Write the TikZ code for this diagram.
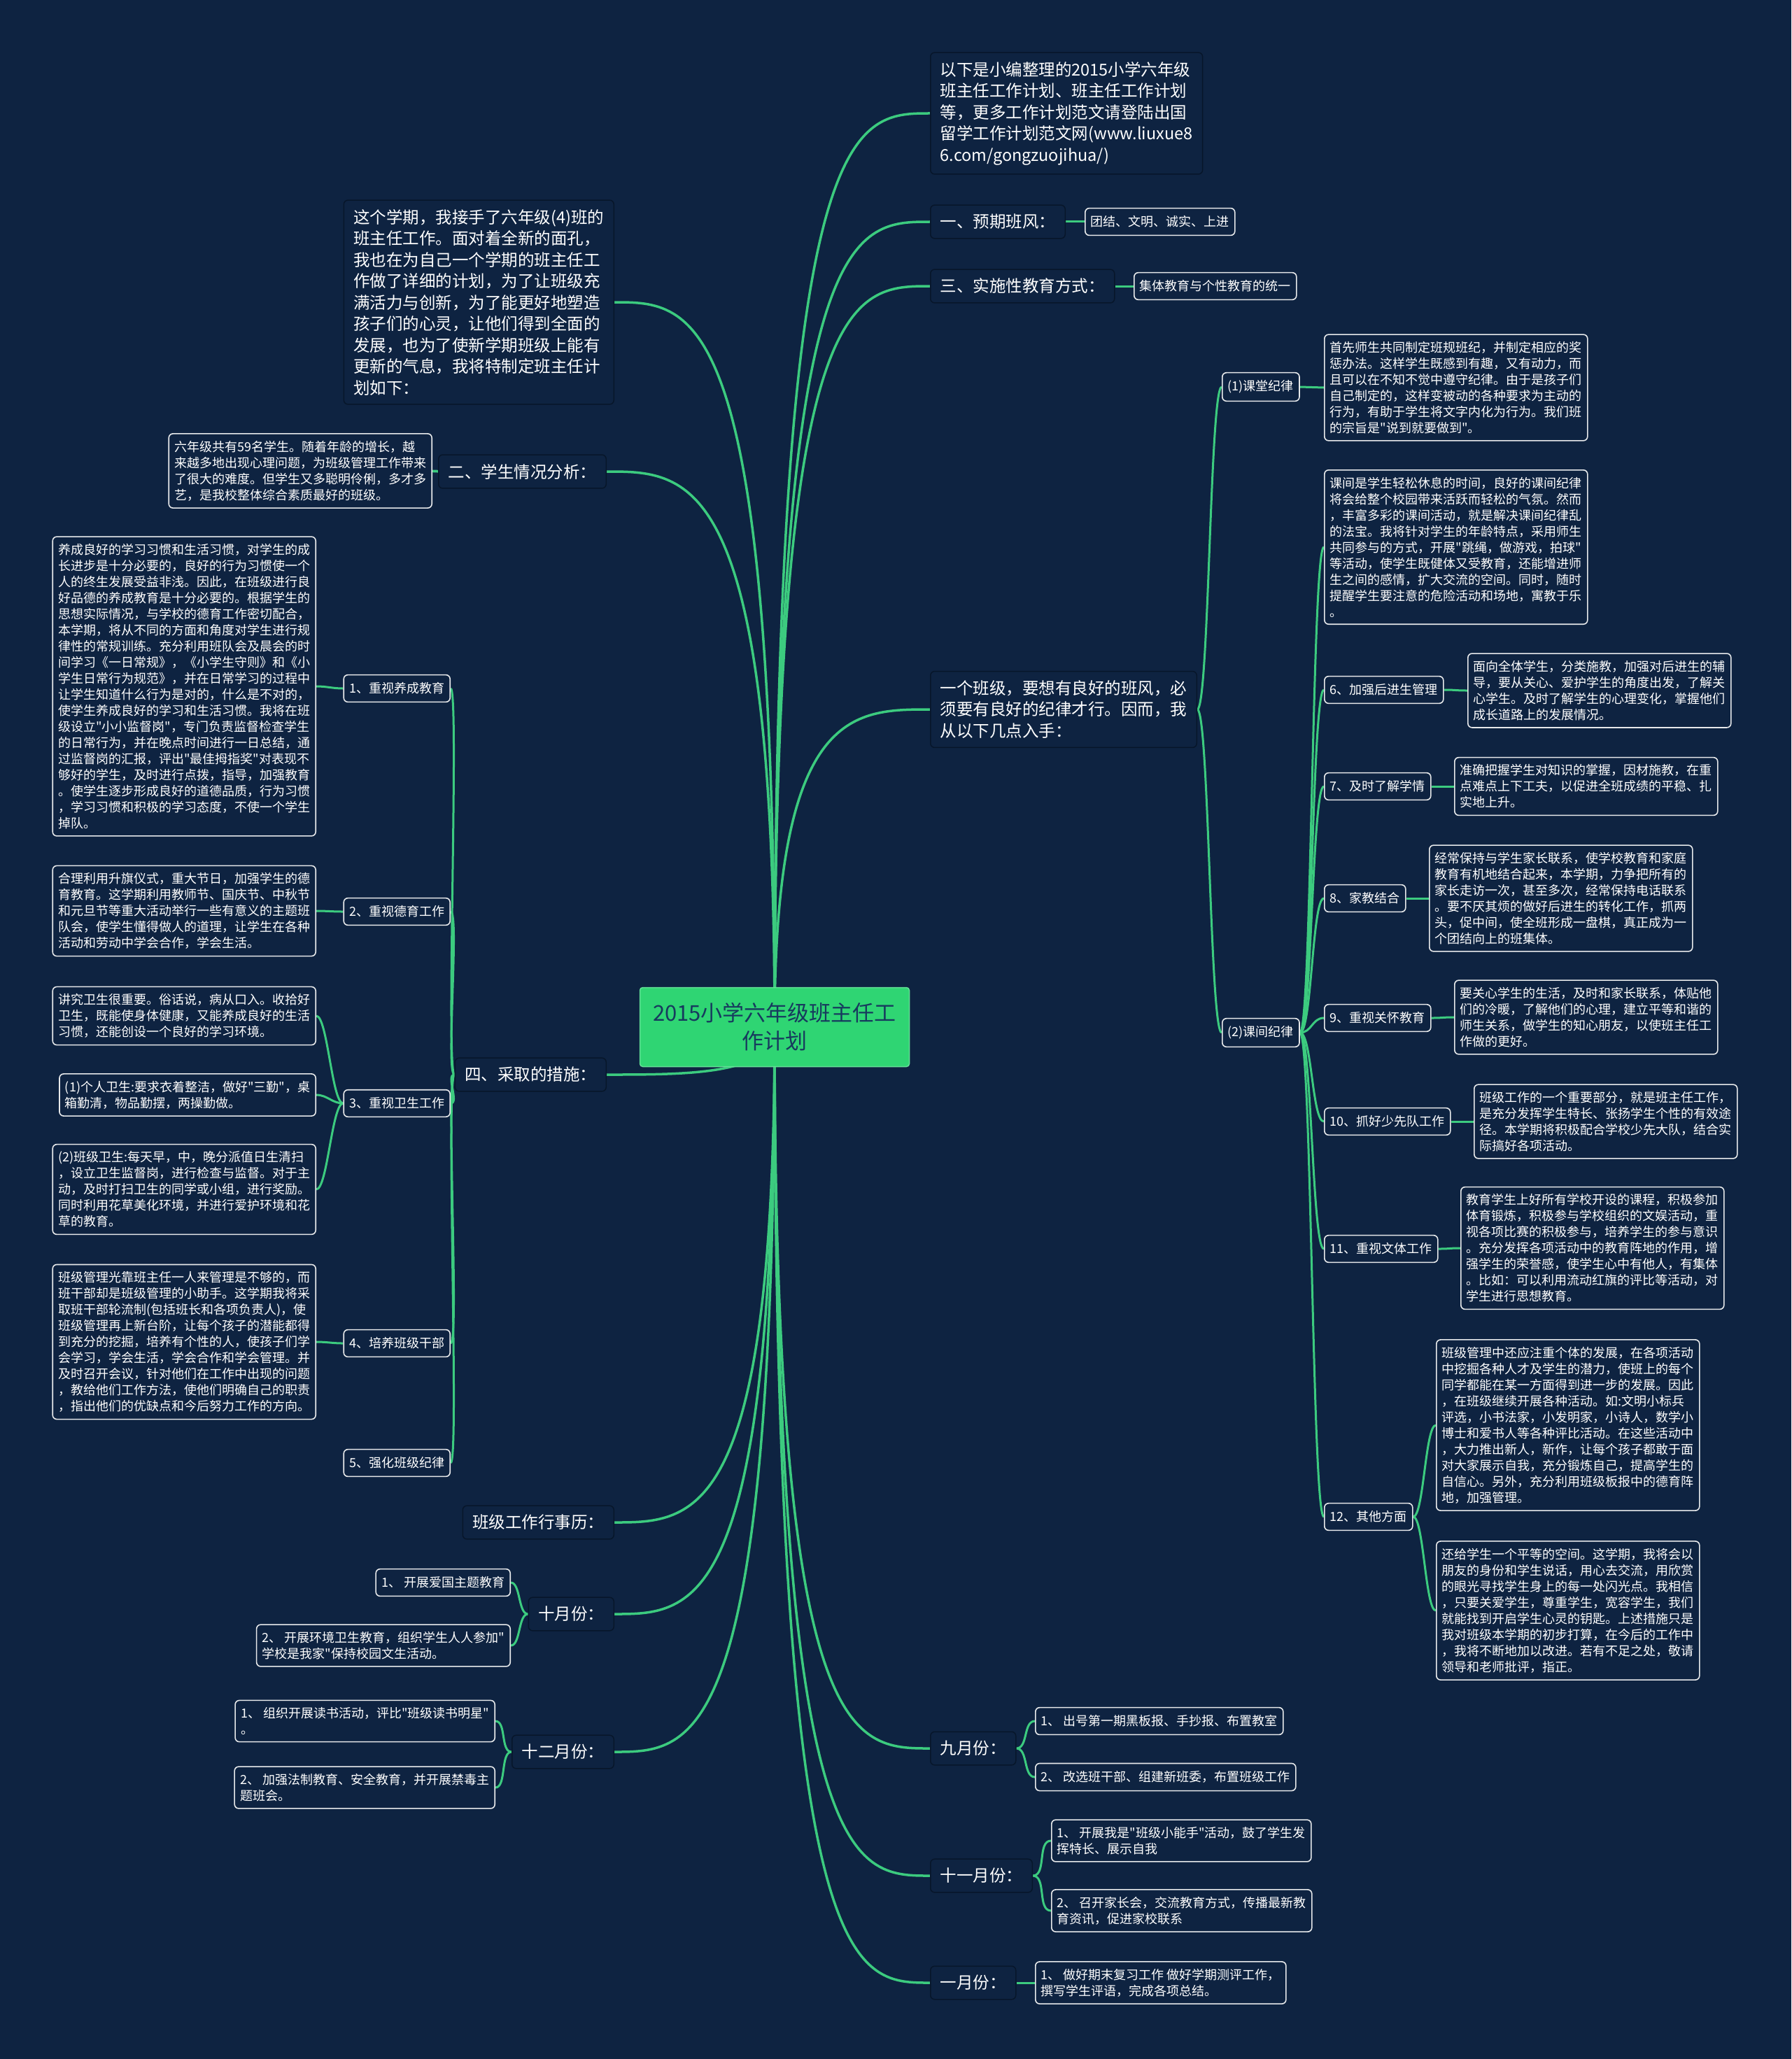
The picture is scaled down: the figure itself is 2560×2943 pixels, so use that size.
\documentclass[tikz,border=0pt]{standalone}
\usepackage{fontspec}
\setmainfont{Noto Sans CJK SC}[Ligatures=TeXOff]
\usetikzlibrary{calc}
\definecolor{bgc}{HTML}{0E2341}
\definecolor{lnc}{HTML}{3CCB7F}
\definecolor{rootc}{HTML}{2FD573}
\definecolor{roottx}{HTML}{173A5E}
\definecolor{mainbd}{HTML}{07162A}
\definecolor{leafbd}{HTML}{E6E8EA}
\pgfdeclarelayer{bglayer}
\pgfdeclarelayer{lines}
\pgfsetlayers{bglayer,lines,main}
\tikzset{
  basebox/.style={text=white, align=left, rounded corners=6pt},
  mainnode/.style={basebox, fill=bgc, draw=mainbd, line width=1.5pt, inner xsep=14pt, inner ysep=13pt, font=\fontsize{23.5}{30.5}\selectfont},
  leaf/.style={basebox, fill=bgc, draw=leafbd, line width=1.6pt, inner xsep=8pt, inner ysep=10pt, font=\fontsize{18}{23}\selectfont},
  tag/.style={leaf, inner ysep=11pt},
  rootnode/.style={fill=rootc, draw=rootc!75!white, line width=1.5pt, text=roottx, align=center, rounded corners=4pt, font=\fontsize{31}{40}\selectfont, minimum width=385pt, minimum height=113pt},
  rootconn/.style={draw=lnc, line width=3.5pt},
  conn/.style={draw=lnc, line width=3pt},
}
\newcommand\myrootlink[1]{\draw[rootconn] let \p1=(root.center), \p2=(#1) in (\p1) .. controls (\x1,\y2) and ({0.5*\x1+0.5*\x2},\y2) .. (\p2);}
\newcommand\mysl[3]{\draw[conn] (#1) .. controls +(#3,0) and +(-#3,0) .. (#2);}
\begin{document}
\begin{tikzpicture}[x=1pt,y=-1pt]
\useasboundingbox (0,0) rectangle (2560,2943);
\begin{pgfonlayer}{bglayer}
\fill[bgc] (0,0) rectangle (2560,2943);
\end{pgfonlayer}

% root
\node[rootnode] (root) at (1107,1468) {2015小学六年级班主任工\\作计划};

% right side
\node[mainnode, anchor=west] (intro) at (1329,162) {以下是小编整理的2015小学六年级\\班主任工作计划、班主任工作计划\\等，更多工作计划范文请登陆出国\\留学工作计划范文网(www.liuxue8\\6.com/gongzuojihua/)};
\node[mainnode, anchor=west] (yq) at (1329,317) {一、预期班风：};
\node[tag, anchor=west] (yqa) at (1550,317) {团结、文明、诚实、上进};
\node[mainnode, anchor=west] (ss) at (1329,409) {三、实施性教育方式：};
\node[tag, anchor=west] (ssa) at (1620,409) {集体教育与个性教育的统一};
\node[mainnode, anchor=west] (bj) at (1329,1014) {一个班级，要想有良好的班风，必\\须要有良好的纪律才行。因而，我\\从以下几点入手：};

\node[tag, anchor=west] (kt) at (1746,553) {(1)课堂纪律};
\node[leaf, anchor=west] (kta) at (1892,554) {首先师生共同制定班规班纪，并制定相应的奖\\惩办法。这样学生既感到有趣，又有动力，而\\且可以在不知不觉中遵守纪律。由于是孩子们\\自己制定的，这样变被动的各种要求为主动的\\行为，有助于学生将文字内化为行为。我们班\\的宗旨是"说到就要做到"。};
\node[tag, anchor=west] (kj) at (1746,1476) {(2)课间纪律};
\node[leaf, anchor=west] (kja) at (1892,782) {课间是学生轻松休息的时间，良好的课间纪律\\将会给整个校园带来活跃而轻松的气氛。然而\\，丰富多彩的课间活动，就是解决课间纪律乱\\的法宝。我将针对学生的年龄特点，采用师生\\共同参与的方式，开展"跳绳，做游戏，拍球"\\等活动，使学生既健体又受教育，还能增进师\\生之间的感情，扩大交流的空间。同时，随时\\提醒学生要注意的危险活动和场地，寓教于乐\\。};
\node[tag, anchor=west] (r6) at (1892,986) {6、加强后进生管理};
\node[leaf, anchor=west] (r6a) at (2097,987) {面向全体学生，分类施教，加强对后进生的辅\\导，要从关心、爱护学生的角度出发，了解关\\心学生。及时了解学生的心理变化，掌握他们\\成长道路上的发展情况。};
\node[tag, anchor=west] (r7) at (1892,1124) {7、及时了解学情};
\node[leaf, anchor=west] (r7a) at (2078,1124) {准确把握学生对知识的掌握，因材施教，在重\\点难点上下工夫，以促进全班成绩的平稳、扎\\实地上升。};
\node[tag, anchor=west] (r8) at (1892,1284) {8、家教结合};
\node[leaf, anchor=west] (r8a) at (2042,1284) {经常保持与学生家长联系，使学校教育和家庭\\教育有机地结合起来，本学期，力争把所有的\\家长走访一次，甚至多次，经常保持电话联系\\。要不厌其烦的做好后进生的转化工作，抓两\\头，促中间，使全班形成一盘棋，真正成为一\\个团结向上的班集体。};
\node[tag, anchor=west] (r9) at (1892,1455) {9、重视关怀教育};
\node[leaf, anchor=west] (r9a) at (2078,1454) {要关心学生的生活，及时和家长联系，体贴他\\们的冷暖，了解他们的心理，建立平等和谐的\\师生关系，做学生的知心朋友，以使班主任工\\作做的更好。};
\node[tag, anchor=west] (r10) at (1892,1603) {10、抓好少先队工作};
\node[leaf, anchor=west] (r10a) at (2106,1603) {班级工作的一个重要部分，就是班主任工作，\\是充分发挥学生特长、张扬学生个性的有效途\\径。本学期将积极配合学校少先大队，结合实\\际搞好各项活动。};
\node[tag, anchor=west] (r11) at (1892,1785) {11、重视文体工作};
\node[leaf, anchor=west] (r11a) at (2087,1784) {教育学生上好所有学校开设的课程，积极参加\\体育锻炼，积极参与学校组织的文娱活动，重\\视各项比赛的积极参与，培养学生的参与意识\\。充分发挥各项活动中的教育阵地的作用，增\\强学生的荣誉感，使学生心中有他人，有集体\\。比如：可以利用流动红旗的评比等活动，对\\学生进行思想教育。};
\node[tag, anchor=west] (r12) at (1892,2168) {12、其他方面};
\node[leaf, anchor=west] (r12a) at (2052,2037) {班级管理中还应注重个体的发展，在各项活动\\中挖掘各种人才及学生的潜力，使班上的每个\\同学都能在某一方面得到进一步的发展。因此\\，在班级继续开展各种活动。如:文明小标兵\\评选，小书法家，小发明家，小诗人，数学小\\博士和爱书人等各种评比活动。在这些活动中\\，大力推出新人，新作，让每个孩子都敢于面\\对大家展示自我，充分锻炼自己，提高学生的\\自信心。另外，充分利用班级板报中的德育阵\\地，加强管理。};
\node[leaf, anchor=west] (r12b) at (2052,2302) {还给学生一个平等的空间。这学期，我将会以\\朋友的身份和学生说话，用心去交流，用欣赏\\的眼光寻找学生身上的每一处闪光点。我相信\\，只要关爱学生，尊重学生，宽容学生，我们\\就能找到开启学生心灵的钥匙。上述措施只是\\我对班级本学期的初步打算，在今后的工作中\\，我将不断地加以改进。若有不足之处，敬请\\领导和老师批评，指正。};

\node[mainnode, anchor=west] (m9) at (1329,2499) {九月份：};
\node[tag, anchor=west] (m9a) at (1479,2460) {1、 出号第一期黑板报、手抄报、布置教室};
\node[tag, anchor=west] (m9b) at (1479,2540) {2、 改选班干部、组建新班委，布置班级工作};
\node[mainnode, anchor=west] (m11) at (1329,2681) {十一月份：};
\node[leaf, anchor=west] (m11a) at (1502,2631) {1、 开展我是"班级小能手"活动，鼓了学生发\\挥特长、展示自我};
\node[leaf, anchor=west] (m11b) at (1502,2731) {2、 召开家长会，交流教育方式，传播最新教\\育资讯，促进家校联系};
\node[mainnode, anchor=west] (m1) at (1329,2834) {一月份：};
\node[leaf, anchor=west] (m1a) at (1479,2834) {1、 做好期末复习工作 做好学期测评工作，\\撰写学生评语，完成各项总结。};

% left side
\node[mainnode, anchor=east] (intro2) at (878,432) {这个学期，我接手了六年级(4)班的\\班主任工作。面对着全新的面孔，\\我也在为自己一个学期的班主任工\\作做了详细的计划，为了让班级充\\满活力与创新，为了能更好地塑造\\孩子们的心灵，让他们得到全面的\\发展，也为了使新学期班级上能有\\更新的气息，我将特制定班主任计\\划如下：};
\node[mainnode, anchor=east] (xs) at (867,674) {二、学生情况分析：};
\node[leaf, anchor=east] (xsa) at (618,673) {六年级共有59名学生。随着年龄的增长，越\\来越多地出现心理问题，为班级管理工作带来\\了很大的难度。但学生又多聪明伶俐，多才多\\艺，是我校整体综合素质最好的班级。};
\node[mainnode, anchor=east] (cq) at (867,1536) {四、采取的措施：};
\node[tag, anchor=east] (l1) at (644,984) {1、重视养成教育};
\node[leaf, anchor=east] (l1a) at (452,981) {养成良好的学习习惯和生活习惯，对学生的成\\长进步是十分必要的，良好的行为习惯使一个\\人的终生发展受益非浅。因此，在班级进行良\\好品德的养成教育是十分必要的。根据学生的\\思想实际情况，与学校的德育工作密切配合，\\本学期，将从不同的方面和角度对学生进行规\\律性的常规训练。充分利用班队会及晨会的时\\间学习《一日常规》，《小学生守则》和《小\\学生日常行为规范》，并在日常学习的过程中\\让学生知道什么行为是对的，什么是不对的，\\使学生养成良好的学习和生活习惯。我将在班\\级设立"小小监督岗"，专门负责监督检查学生\\的日常行为，并在晚点时间进行一日总结，通\\过监督岗的汇报，评出"最佳拇指奖"对表现不\\够好的学生，及时进行点拨，指导，加强教育\\。使学生逐步形成良好的道德品质，行为习惯\\，学习习惯和积极的学习态度，不使一个学生\\掉队。};
\node[tag, anchor=east] (l2) at (644,1303) {2、重视德育工作};
\node[leaf, anchor=east] (l2a) at (452,1302) {合理利用升旗仪式，重大节日，加强学生的德\\育教育。这学期利用教师节、国庆节、中秋节\\和元旦节等重大活动举行一些有意义的主题班\\队会，使学生懂得做人的道理，让学生在各种\\活动和劳动中学会合作，学会生活。};
\node[tag, anchor=east] (l3) at (644,1577) {3、重视卫生工作};
\node[leaf, anchor=east] (l3a) at (452,1452) {讲究卫生很重要。俗话说，病从口入。收拾好\\卫生，既能使身体健康，又能养成良好的生活\\习惯，还能创设一个良好的学习环境。};
\node[leaf, anchor=east] (l3b) at (452,1565) {(1)个人卫生:要求衣着整洁，做好"三勤"，桌\\箱勤清，物品勤摆，两操勤做。};
\node[leaf, anchor=east] (l3c) at (452,1700) {(2)班级卫生:每天早，中，晚分派值日生清扫\\，设立卫生监督岗，进行检查与监督。对于主\\动，及时打扫卫生的同学或小组，进行奖励。\\同时利用花草美化环境，并进行爱护环境和花\\草的教育。};
\node[tag, anchor=east] (l4) at (644,1920) {4、培养班级干部};
\node[leaf, anchor=east] (l4a) at (452,1918) {班级管理光靠班主任一人来管理是不够的，而\\班干部却是班级管理的小助手。这学期我将采\\取班干部轮流制(包括班长和各项负责人)，使\\班级管理再上新台阶，让每个孩子的潜能都得\\到充分的挖掘，培养有个性的人，使孩子们学\\会学习，学会生活，学会合作和学会管理。并\\及时召开会议，针对他们在工作中出现的问题\\，教给他们工作方法，使他们明确自己的职责\\，指出他们的优缺点和今后努力工作的方向。};
\node[tag, anchor=east] (l5) at (644,2091) {5、强化班级纪律};

\node[mainnode, anchor=east] (xl) at (878,2176) {班级工作行事历：};
\node[mainnode, anchor=east] (m10) at (878,2307) {十月份：};
\node[tag, anchor=east] (m10a) at (730,2262) {1、 开展爱国主题教育};
\node[leaf, anchor=east] (m10b) at (730,2352) {2、 开展环境卫生教育，组织学生人人参加"\\学校是我家"保持校园文生活动。};
\node[mainnode, anchor=east] (m12) at (878,2504) {十二月份：};
\node[leaf, anchor=east] (m12a) at (708,2460) {1、 组织开展读书活动，评比"班级读书明星"\\。};
\node[leaf, anchor=east] (m12b) at (708,2555) {2、 加强法制教育、安全教育，并开展禁毒主\\题班会。};

\begin{pgfonlayer}{lines}
% root links
\myrootlink{intro.west}
\myrootlink{yq.west}
\myrootlink{ss.west}
\myrootlink{bj.west}
\myrootlink{m9.west}
\myrootlink{m11.west}
\myrootlink{m1.west}
\myrootlink{intro2.east}
\myrootlink{xs.east}
\myrootlink{cq.east}
\myrootlink{xl.east}
\myrootlink{m10.east}
\myrootlink{m12.east}
% right branches
\mysl{yq.east}{yqa.west}{15}
\mysl{ss.east}{ssa.west}{20}
\mysl{bj.east}{kt.west}{17}
\mysl{bj.east}{kj.west}{17}
\mysl{kt.east}{kta.west}{17}
\mysl{kj.east}{kja.west}{17}
\mysl{kj.east}{r6.west}{17}
\mysl{kj.east}{r7.west}{17}
\mysl{kj.east}{r8.west}{17}
\mysl{kj.east}{r9.west}{17}
\mysl{kj.east}{r10.west}{17}
\mysl{kj.east}{r11.west}{17}
\mysl{kj.east}{r12.west}{17}
\mysl{r6.east}{r6a.west}{18}
\mysl{r7.east}{r7a.west}{18}
\mysl{r8.east}{r8a.west}{18}
\mysl{r9.east}{r9a.west}{18}
\mysl{r10.east}{r10a.west}{18}
\mysl{r11.east}{r11a.west}{18}
\mysl{r12.east}{r12a.west}{15}
\mysl{r12.east}{r12b.west}{15}
\mysl{m9.east}{m9a.west}{17}
\mysl{m9.east}{m9b.west}{17}
\mysl{m11.east}{m11a.west}{20}
\mysl{m11.east}{m11b.west}{20}
\mysl{m1.east}{m1a.west}{17}
% left branches
\mysl{xs.west}{xsa.east}{-15}
\mysl{cq.west}{l1.east}{-13}
\mysl{cq.west}{l2.east}{-13}
\mysl{cq.west}{l3.east}{-13}
\mysl{cq.west}{l4.east}{-13}
\mysl{cq.west}{l5.east}{-13}
\mysl{l1.west}{l1a.east}{-16}
\mysl{l2.west}{l2a.east}{-16}
\mysl{l3.west}{l3a.east}{-16}
\mysl{l3.west}{l3b.east}{-16}
\mysl{l3.west}{l3c.east}{-16}
\mysl{l4.west}{l4a.east}{-16}
\mysl{m10.west}{m10a.east}{-14}
\mysl{m10.west}{m10b.east}{-14}
\mysl{m12.west}{m12a.east}{-16}
\mysl{m12.west}{m12b.east}{-16}
\end{pgfonlayer}
\end{tikzpicture}
\end{document}
